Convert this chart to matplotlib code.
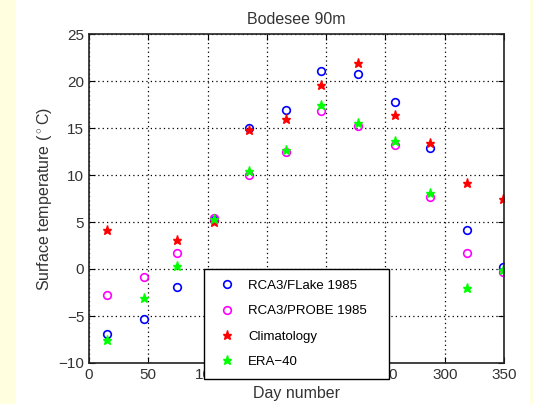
import matplotlib
matplotlib.use("Agg")
import matplotlib.pyplot as plt
import numpy as np
from matplotlib.patches import Rectangle

plt.rcParams['font.family'] = ['Liberation Sans', 'DejaVu Sans']
plt.rcParams['mathtext.fontset'] = 'custom'
plt.rcParams['mathtext.rm'] = 'Liberation Sans'

# mid-month day numbers
days = [15, 46, 74, 105, 135, 166, 196, 227, 258, 288, 319, 349]

flake = [-6.9, -5.3, -1.95, 5.2, 15.0, 16.9, 21.05, 20.7, 17.8, 12.9, 4.2, 0.2]
probe = [-2.75, -0.8, 1.7, 5.4, 9.95, 12.5, 16.8, 15.25, 13.15, 7.7, 1.7, -0.3]
clim = [4.2, np.nan, 3.1, 4.95, 14.8, 16.0, 19.6, 21.95, 16.4, 13.4, 9.2, 7.4]
era40 = [-7.6, -3.1, 0.3, 5.3, 10.45, 12.7, 17.4, 15.5, 13.65, 8.1, -2.0, -0.15]

labels = ['RCA3/FLake 1985', 'RCA3/PROBE 1985', 'Climatology', 'ERA\u221240']

fig = plt.figure(figsize=(5.33, 4.04), dpi=100, facecolor='#FFFFE0')
# white page between the yellow margins
fig.patches.append(Rectangle((16 / 533, 0), (530 - 16) / 533, 1,
                             transform=fig.transFigure, facecolor='white',
                             edgecolor='none', zorder=-10))
ax = fig.add_axes([89 / 533, 41 / 404, 415 / 533, 329 / 404])

ax.plot(days, flake, 'o', mfc='none', mec='blue', ms=5.5, mew=1.2, label=labels[0])
ax.plot(days, probe, 'o', mfc='none', mec='magenta', ms=5.5, mew=1.2, label=labels[1])
ax.plot(days, clim, '*', color='red', ms=6.5, label=labels[2])
ax.plot(days, era40, '*', color='#00ff00', ms=6.5, label=labels[3])

ax.set_xlim(0, 350)
ax.set_ylim(-10, 25)
ax.set_xticks(np.arange(0, 351, 50))
ax.set_yticks(np.arange(-10, 26, 5))
ax.grid(True, color='black', linestyle=(0, (1, 2.5)), linewidth=0.9)
ax.tick_params(direction='in', top=True, right=True, length=4, labelsize=11,
               colors='black', labelcolor='#333333')
for sp in ax.spines.values():
    sp.set_linewidth(1.2)
    sp.set_color('#222222')

ax.set_title('Bodesee 90m', fontsize=11.5, color='#333333', pad=7)
ax.set_xlabel('Day number', fontsize=11.5, color='#333333', labelpad=3)
ax.set_ylabel(r'Surface temperature ($^\circ$C)', fontsize=11.5,
              color='#333333', labelpad=3)

leg = ax.legend(loc='upper left', bbox_to_anchor=(0.277, 0.286, 0.446, 0),
                mode='expand', fontsize=9.5,
                frameon=True, fancybox=False, framealpha=1, edgecolor='black',
                handlelength=1.9, handletextpad=0.64, labelspacing=1.0,
                borderpad=0.8, borderaxespad=0, numpoints=1)
leg.get_frame().set_linewidth(1.0)
leg.set_zorder(10)

fig.savefig('out.png', dpi=100, facecolor=fig.get_facecolor())
